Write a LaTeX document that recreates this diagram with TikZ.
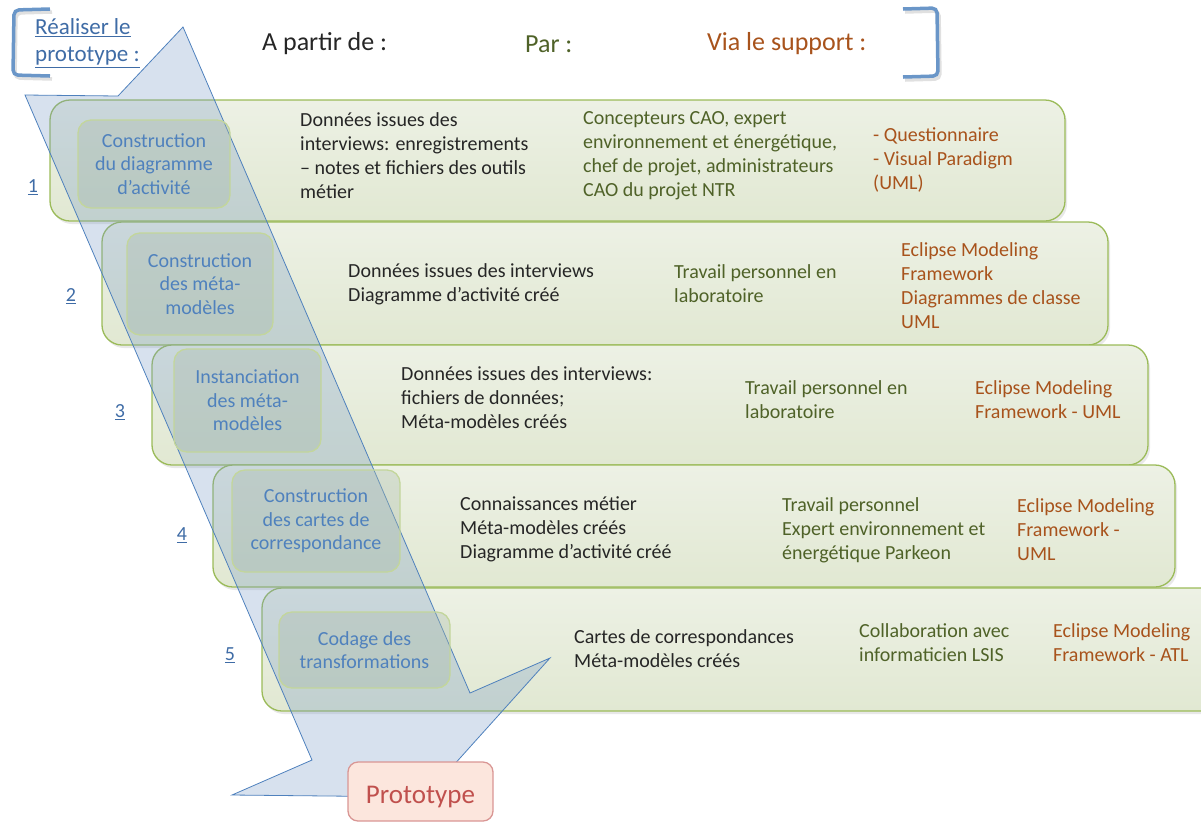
\documentclass[tikz,border=0pt]{standalone}
\usepackage{fontspec}
\setmainfont{Carlito}
\usetikzlibrary{shadows}
\definecolor{txtblack}{HTML}{262626}
\definecolor{txtgreen}{HTML}{4F6228}
\definecolor{txtbrown}{HTML}{A8531C}
\definecolor{lblblue}{HTML}{4F81BD}
\definecolor{linkblue}{HTML}{3F6CA6}
\definecolor{boxtop}{HTML}{EDF1E5}
\definecolor{boxbot}{HTML}{E1E8D2}
\definecolor{boxline}{HTML}{9BBB59}
\definecolor{arrowfill}{HTML}{7A9CC8}
\definecolor{arrowline}{HTML}{4F81BD}
\definecolor{stepfill}{HTML}{A9BBA8}
\definecolor{stepline}{HTML}{C3D69B}
\definecolor{protofill}{HTML}{FCE6DD}
\definecolor{protoline}{HTML}{D99694}
\definecolor{prototext}{HTML}{C0504D}
\definecolor{bracket}{HTML}{6A96C8}
\tikzset{
  bigbox/.style={draw=boxline, line width=1.3pt, rounded corners=20pt,
    top color=boxtop, bottom color=boxbot,
    drop shadow={opacity=0.18, shadow xshift=2pt, shadow yshift=-3pt}},
  stepbox/.style={draw=stepline, line width=1.3pt, rounded corners=13pt,
    fill=stepfill, fill opacity=0.35, text opacity=1, text=lblblue,
    align=center, inner sep=0pt,
    font=\fontsize{20}{23.5}\selectfont},
  bigarrow/.style={draw=arrowline, line width=0.8pt, fill=arrowfill, fill opacity=0.3, line join=miter},
  body/.style={anchor=west, align=left, inner sep=0pt, font=\fontsize{20}{24}\selectfont},
  colA/.style={body, text=txtblack},
  colB/.style={body, text=txtgreen},
  colC/.style={body, text=txtbrown},
  num/.style={text=linkblue, inner sep=0pt, font=\fontsize{20}{24}\selectfont},
  head/.style={anchor=west, inner sep=0pt, font=\fontsize{26}{30}\selectfont},
  brk/.style={draw=bracket, line width=3.5pt, rounded corners=5pt},
  brkshadow/.style={draw=black, opacity=0.12, line width=3.5pt, rounded corners=5pt},
  protobox/.style={draw=protoline, line width=1.3pt, fill=protofill, rounded corners=10pt,
    text=prototext, minimum width=145pt, minimum height=59pt, inner sep=0pt,
    font=\fontsize{27}{32}\selectfont}
}
\begin{document}
\begin{tikzpicture}[x=1pt,y=-1pt]
\useasboundingbox (0,0) rectangle (1201,823);

% brackets
\draw[brkshadow] (52,12) -- (16,13) -- (15,78) -- (52,79);
\draw[brk] (50,9) -- (14,10) -- (13,75) -- (50,76);
\draw[brkshadow] (905,12) -- (939,11) -- (940,79) -- (905,80);
\draw[brk] (903,9) -- (937,8) -- (938,76) -- (903,77);

% header
\node[anchor=west, align=left, inner sep=0pt, text=linkblue, font=\fontsize{23}{27}\selectfont] (title) at (35,43)
  {\underline{Réaliser le}\\\underline{prototype :}};
\node[head, text=txtblack] (hA) at (262,44) {A partir de :};
\node[head, text=txtgreen] (hB) at (525,44) {Par :};
\node[head, text=txtbrown] (hC) at (707,44) {Via le support :};

% big step boxes
\draw[bigbox] (50,100) rectangle (1065,221);
\draw[bigbox] (102,222) rectangle (1108,345);
\draw[bigbox] (152,345) rectangle (1148,465);
\draw[bigbox] (213,465) rectangle (1175,587);
\draw[bigbox] (262,588) rectangle (1225,711);

% the big arrow
\draw[bigarrow] (183,27) -- (118,96) -- (25,95) -- (312,760) -- (232,795)
  -- (425,797) -- (550,658) -- (470,693) -- cycle;

% step label boxes
\node[stepbox, minimum width=152pt, minimum height=88pt] (s1) at (154,164) {Construction\\du diagramme\\d’activité};
\node[stepbox, minimum width=146pt, minimum height=102pt] (s2) at (200,284) {Construction\\des méta-\\modèles};
\node[stepbox, minimum width=147pt, minimum height=103pt] (s3) at (247.5,400.5) {Instanciation\\des méta-\\modèles};
\node[stepbox, minimum width=168pt, minimum height=102pt] (s4) at (316,521) {Construction\\des cartes de\\correspondance};
\node[stepbox, minimum width=171pt, minimum height=76pt] (s5) at (364.5,650) {Codage des\\transformations};

% numbers
\node[num] (n1) at (33,187) {\underline{1}};
\node[num] (n2) at (71,296) {\underline{2}};
\node[num] (n3) at (120,412) {\underline{3}};
\node[num] (n4) at (182,535) {\underline{4}};
\node[num] (n5) at (230,655) {\underline{5}};

% row 1
\node[colA] (r1a) at (300,156) {Données issues des\\interviews: enregistrements\\– notes et fichiers des outils\\métier};
\node[colB] (r1b) at (583,156) {Concepteurs CAO, expert\\environnement et énergétique,\\chef de projet, administrateurs\\CAO du projet NTR};
\node[colC] (r1c) at (873,160) {- Questionnaire\\- Visual Paradigm\\(UML)};

% row 2
\node[colA] (r2a) at (348,284) {Données issues des interviews\\Diagramme d’activité créé};
\node[colB] (r2b) at (674,284) {Travail personnel en\\laboratoire};
\node[colC] (r2c) at (901,286) {Eclipse Modeling\\Framework\\Diagrammes de classe\\UML};

% row 3
\node[colA] (r3a) at (401,398) {Données issues des interviews:\\fichiers de données;\\Méta-modèles créés};
\node[colB] (r3b) at (745,400) {Travail personnel en\\laboratoire};
\node[colC] (r3c) at (975,400) {Eclipse Modeling\\Framework - UML};

% row 4
\node[colA] (r4a) at (460,529) {Connaissances métier\\Méta-modèles créés\\Diagramme d’activité créé};
\node[colB] (r4b) at (782,530) {Travail personnel\\Expert environnement et\\énergétique Parkeon};
\node[colC] (r4c) at (1017,530) {Eclipse Modeling\\Framework -\\UML};

% row 5
\node[colA] (r5a) at (574,649) {Cartes de correspondances\\Méta-modèles créés};
\node[colB] (r5b) at (859,643) {Collaboration avec\\informaticien LSIS};
\node[colC] (r5c) at (1053,643) {Eclipse Modeling\\Framework - ATL};

% prototype
\node[protobox] (proto) at (420.5,791.5) {\raisebox{-12pt}[0pt][0pt]{Prototype}};
\end{tikzpicture}
\end{document}
